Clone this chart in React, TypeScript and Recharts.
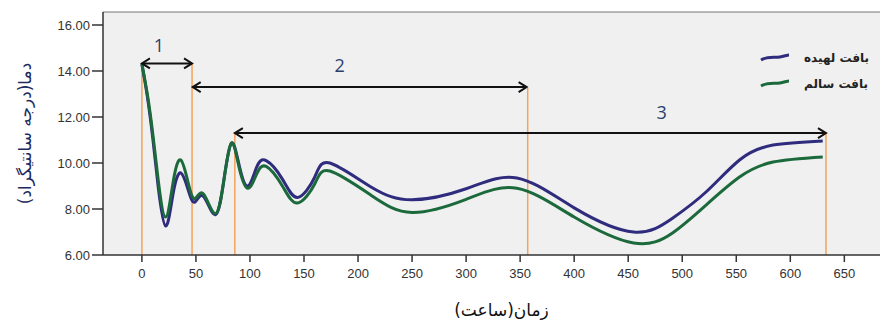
import React from "react";
import {
  CartesianGrid,
  Line,
  LineChart,
  ReferenceDot,
  ReferenceLine,
  XAxis,
  YAxis,
} from "recharts";

// time in hours
const hours = [0, 5, 10, 15, 22, 29, 36, 43, 49, 57, 68, 76, 83, 90, 98, 106, 115, 130, 144, 160, 174, 212, 250, 300, 347, 400, 455, 491, 522, 553, 584, 630];
// بافت لهیده
const bruised = [14.3, 12.9, 11.1, 9.0, 7.26, 8.7, 9.57, 8.8, 8.3, 8.55, 7.75, 9.3, 10.87, 9.9, 9.0, 9.8, 10.1, 9.3, 8.5, 9.4, 10.0, 8.96, 8.4, 8.88, 9.35, 8.05, 7.0, 7.6, 8.74, 10.13, 10.78, 10.96];
// بافت سالم
const healthy = [14.3, 13.0, 11.3, 9.3, 7.65, 9.2, 10.13, 9.1, 8.45, 8.65, 7.8, 9.3, 10.87, 9.8, 8.9, 9.5, 9.85, 9.0, 8.26, 9.1, 9.65, 8.6, 7.85, 8.42, 8.9, 7.65, 6.52, 6.96, 8.17, 9.39, 10.04, 10.26];

const xTicks = [0, 50, 100, 150, 200, 250, 300, 350, 400, 450, 500, 550, 600, 650];
const yTicks = [6, 8, 10, 12, 14, 16];

// stage boundaries (orange markers) and their top level
const markerHours = [0, 46.4, 86, 357, 633];
const markerTops = [14.35, 14.35, 11.3, 13.26, 11.3];

// double arrows for the three stages
const arrowFrom = [0, 47, 86];
const arrowTo = [46.4, 356, 633];
const arrowLevel = [14.33, 13.3, 11.3];
const stageNames = ["1", "2", "3"];
const stageLabelAt = [15.7, 183, 481];
const stageLabelLevel = [15.13, 14.26, 12.2];

const rows = hours.map((t, i) => ({ t, bruised: bruised[i], healthy: healthy[i] }));

const arabicFont = "DejaVu Sans";

const arrowShape = (p: any) => {
  const { x1, y1, x2, y2 } = p;
  const h = 8;
  const w = 5;
  return (
    <g>
      <line x1={x1} y1={y1} x2={x2} y2={y2} stroke="#111" strokeWidth={2} />
      <polyline points={`${x2 - h},${y2 - w} ${x2},${y2} ${x2 - h},${y2 + w}`} fill="none" stroke="#111" strokeWidth={2} />
      <polyline points={`${x1 + h},${y1 - w} ${x1},${y1} ${x1 + h},${y1 + w}`} fill="none" stroke="#111" strokeWidth={2} />
    </g>
  );
};

const Swatch = ({ color }: { color: string }) => (
  <svg width={30} height={10} style={{ display: "block" }}>
    <path d="M1,7 C8,3 14,5 20,4 S27,2 29,2" fill="none" stroke={color} strokeWidth={3} />
  </svg>
);

const App = () => {
  return (
    <div style={{ position: "absolute", left: 0, top: 0, width: 881, height: 322, background: "#fff" }}>
      <LineChart width={881} height={322} data={rows} margin={{ top: 12, right: 1, bottom: 0, left: 0 }}>
        <CartesianGrid horizontal={false} vertical={false} fill="#f0f0f0" />
        <XAxis
          type="number"
          dataKey="t"
          domain={[-36, 683]}
          ticks={xTicks}
          allowDataOverflow
          height={67}
          tickSize={7}
          tickMargin={7}
          stroke="#333"
          strokeWidth={1.5}
          tick={{ fontSize: 13, fill: "#333", fontFamily: "Liberation Sans" }}
          label={(props: any) => {
            const vb = props.viewBox;
            return (
              <text x={vb.x + vb.width / 2 + 10} y={316} textAnchor="middle" fontSize={17} fill="#111" fontFamily={arabicFont} direction="rtl">
                زمان(ساعت)
              </text>
            );
          }}
        />
        <YAxis
          type="number"
          domain={[6, 16.565]}
          ticks={yTicks}
          allowDataOverflow
          width={103}
          tickSize={11}
          tickMargin={2}
          stroke="#333"
          strokeWidth={1.5}
          tickFormatter={(v: number) => v.toFixed(2)}
          tick={{ fontSize: 13, fill: "#333", fontFamily: "Liberation Sans" }}
          label={(props: any) => {
            const vb = props.viewBox;
            const cy = vb.y + vb.height / 2;
            return (
              <text x={25} y={cy} transform={`rotate(-90 25 ${cy})`} textAnchor="middle" dominantBaseline="central" fontSize={17} fill="#1c2a5c" fontFamily={arabicFont} direction="rtl">
                دما(درجه سانتیگراد)
              </text>
            );
          }}
        />
        <ReferenceLine y={16.565} stroke="#777" strokeWidth={1} />
        {markerHours.map((t, i) => (
          <ReferenceLine
            key={`m${i}`}
            segment={[{ x: t, y: markerTops[i] }, { x: t, y: 6 }]}
            stroke="#f5a25a"
            strokeWidth={1.5}
          />
        ))}
        <Line type="natural" dataKey="bruised" stroke="#2f2c7e" strokeWidth={3} dot={false} isAnimationActive={false} />
        <Line type="natural" dataKey="healthy" stroke="#1c6a3c" strokeWidth={3} dot={false} isAnimationActive={false} />
        {arrowFrom.map((from, i) => (
          <ReferenceLine
            key={`a${i}`}
            segment={[{ x: from, y: arrowLevel[i] }, { x: arrowTo[i], y: arrowLevel[i] }]}
            shape={arrowShape}
          />
        ))}
        {stageNames.map((name, i) => (
          <ReferenceDot
            key={`s${i}`}
            x={stageLabelAt[i]}
            y={stageLabelLevel[i]}
            r={0}
            shape={(p: any) => (
              <text x={p.cx} y={p.cy} textAnchor="middle" dominantBaseline="central" fontSize={18} fill="#2a3f6e" fontFamily="Open Sans">
                {name}
              </text>
            )}
          />
        ))}
      </LineChart>
      <div style={{ position: "absolute", left: 760, top: 49, fontFamily: arabicFont, fontSize: 12, fontWeight: "bold", color: "#222" }}>
        <div style={{ display: "flex", alignItems: "center", height: 18 }}>
          <Swatch color="#2f2c7e" />
          <span dir="rtl" style={{ marginLeft: 14 }}>بافت لهیده</span>
        </div>
        <div style={{ display: "flex", alignItems: "center", height: 18, marginTop: 8 }}>
          <Swatch color="#1c6a3c" />
          <span dir="rtl" style={{ marginLeft: 14 }}>بافت سالم</span>
        </div>
      </div>
    </div>
  );
};

export default App;
